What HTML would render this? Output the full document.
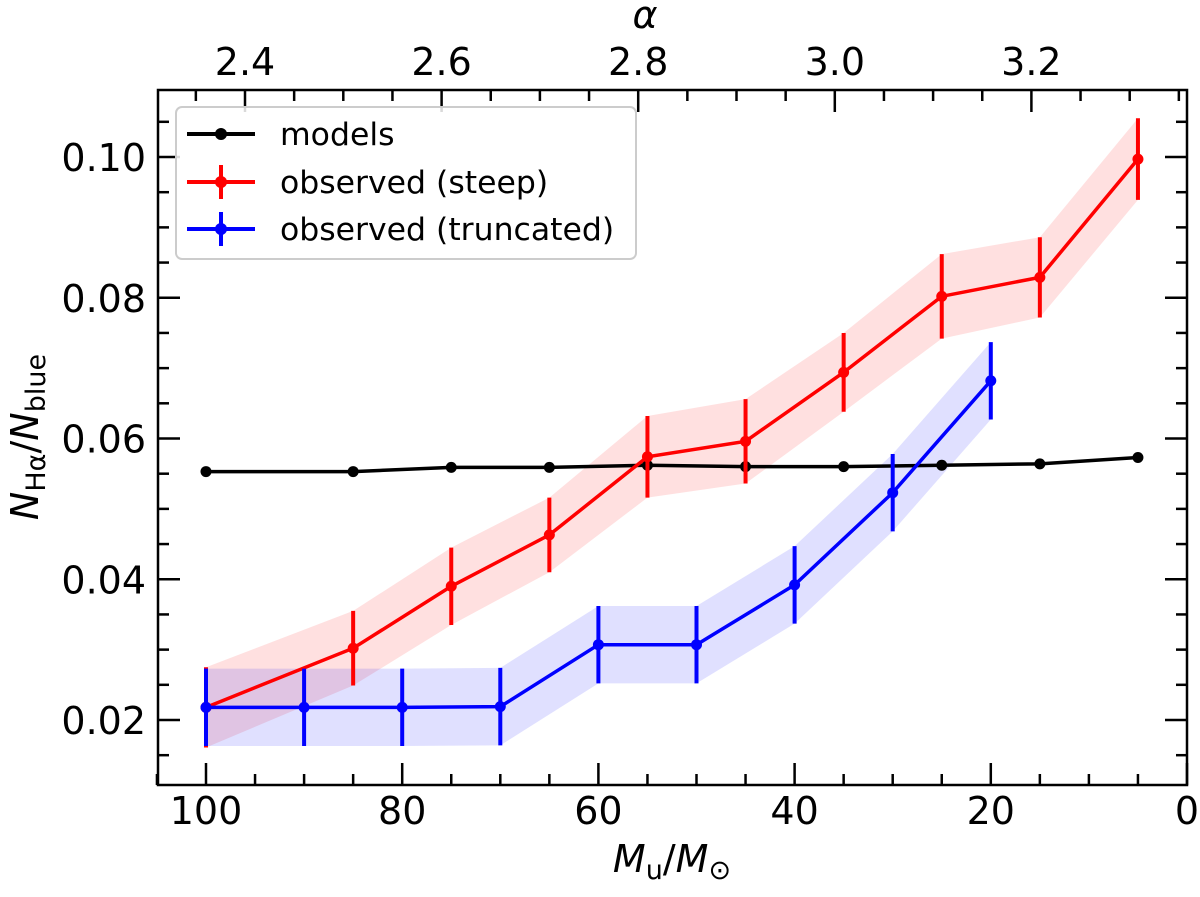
<!DOCTYPE html>
<html><head><meta charset="utf-8"><style>
body{margin:0;background:#fff}
text{font-family:"DejaVu Sans","Liberation Sans",sans-serif}
</style></head><body>
<svg id="chart" width="1200" height="892" xmlns="http://www.w3.org/2000/svg"></svg>
<script>
const massModels=[100,85,75,65,55,45,35,25,15,5];
const modelVals=[0.0553,0.0553,0.0559,0.0559,0.0562,0.0560,0.0560,0.0562,0.0564,0.0573];
const steepVals=[0.0218,0.0302,0.0390,0.0463,0.0574,0.0596,0.0694,0.0802,0.0829,0.0997];
const steepErr=[0.0057,0.0053,0.0055,0.0053,0.0058,0.0060,0.0056,0.0060,0.0057,0.0058];
const massTrunc=[100,90,80,70,60,50,40,30,20];
const truncVals=[0.0218,0.0218,0.0218,0.0219,0.0307,0.0307,0.0392,0.0523,0.0682];
const truncErr=[0.0055,0.0055,0.0055,0.0055,0.0055,0.0055,0.0055,0.0055,0.0055];
const xTicks=[100,80,60,40,20,0];
const yTicks=[0.02,0.04,0.06,0.08,0.10];
const alphaTicks=[2.4,2.6,2.8,3.0,3.2];

const svg=document.getElementById('chart');
const NS='http://www.w3.org/2000/svg';
const L=158,R=1187,T=90,B=785;
const X=m=>206+(100-m)*9.81;
const Y=v=>720-(v-0.02)*7037.5;
const AX=a=>245+(a-2.4)*983;
function mk(tag,attrs,parent){const e=document.createElementNS(NS,tag);for(const k in attrs)e.setAttribute(k,attrs[k]);(parent||svg).appendChild(e);return e;}

function band(ms,vals,errs,color,name){
  let top=ms.map((m,i)=>X(m)+','+Y(vals[i]+errs[i]));
  let bot=ms.map((m,i)=>X(m)+','+Y(vals[i]-errs[i])).reverse();
  const p=mk('polygon',{points:top.concat(bot).join(' '),fill:color,'fill-opacity':0.12});
  
  
}
band(massModels,steepVals,steepErr,'#ff0000','steep-band');
band(massTrunc,truncVals,truncErr,'#0000ff','truncated-band');

function series(ms,vals,errs,color,name){
  const g=mk('g',{});
  
  
  mk('polyline',{points:ms.map((m,i)=>X(m)+','+Y(vals[i])).join(' '),fill:'none',stroke:color,'stroke-width':3.5},g);
  ms.forEach((m,i)=>{
    if(errs){const e=mk('line',{x1:X(m),x2:X(m),y1:Y(vals[i]-errs[i]),y2:Y(vals[i]+errs[i]),stroke:color,'stroke-width':4},g);
      
      }
    const c=mk('circle',{cx:X(m),cy:Y(vals[i]),r:5.5,fill:color},g);
    
    
  });
}
series(massModels,modelVals,null,'#000','models-series');
series(massModels,steepVals,steepErr,'#ff0000','steep-series');
series(massTrunc,truncVals,truncErr,'#0000ff','truncated-series');

mk('rect',{x:L,y:T,width:R-L,height:B-T,fill:'none',stroke:'#000','stroke-width':2.5});
for(let m=0;m<=105;m+=5){const x=X(m);const maj=m%20===0;const len=maj?22:11;
  mk('line',{x1:x,x2:x,y1:B,y2:B-len,stroke:'#000','stroke-width':2.5});}
xTicks.forEach(m=>{const t=mk('text',{x:X(m),y:B+39,'font-size':38,'text-anchor':'middle'});t.textContent=m;
  });
for(let k=0;k<=19;k++){const v=0.015+k*0.005;if(v>0.1096)break;const y=Y(v);const maj=k%4===1;const len=maj?22:11;
  mk('line',{x1:L,x2:L+len,y1:y,y2:y,stroke:'#000','stroke-width':2.5});
  mk('line',{x1:R,x2:R-len,y1:y,y2:y,stroke:'#000','stroke-width':2.5});}
yTicks.forEach(v=>{const t=mk('text',{x:L-12,y:Y(v)+14,'font-size':38,'text-anchor':'end'});t.textContent=v.toFixed(2);
  });
for(let k=0;k<=20;k++){const a=2.35+k*0.05;const x=AX(a);if(x<L||x>R)continue;const maj=(k%4)===1;
  mk('line',{x1:x,x2:x,y1:T,y2:T+(maj?22:11),stroke:'#000','stroke-width':2.5});}
alphaTicks.forEach(a=>{const t=mk('text',{x:AX(a),y:T-15,'font-size':38,'text-anchor':'middle'});t.textContent=a.toFixed(1);
  });
</script>
<svg width="1200" height="892" style="position:absolute;left:0;top:0" xmlns="http://www.w3.org/2000/svg">
<text x="645" y="28" font-size="38" font-style="italic" text-anchor="middle" font-family="DejaVu Sans,sans-serif">α</text>
<text x="672" y="872" font-size="38" text-anchor="middle" font-family="DejaVu Sans,sans-serif"><tspan font-style="italic">M</tspan><tspan font-size="27" dy="7">u</tspan><tspan dy="-7">/</tspan><tspan font-style="italic">M</tspan><tspan font-size="27" dy="7">⊙</tspan></text>
<text transform="translate(38,437) rotate(-90)" font-size="38" text-anchor="middle" font-family="DejaVu Sans,sans-serif"><tspan font-style="italic">N</tspan><tspan font-size="27" dy="7">Hα</tspan><tspan dy="-7">/</tspan><tspan font-style="italic">N</tspan><tspan font-size="27" dy="7">blue</tspan></text>
<g>
<rect x="176" y="107" width="460" height="152" rx="6" fill="#fff" fill-opacity="0.85" stroke="#ccc" stroke-width="2"/>
<g><line x1="187" x2="255" y1="134" y2="134" stroke="#000" stroke-width="4"/><circle cx="221" cy="134" r="6"/><text x="280" y="145" font-size="31.5" font-family="DejaVu Sans,sans-serif">models</text></g>
<g><line x1="187" x2="255" y1="182" y2="182" stroke="red" stroke-width="4"/><line x1="221" x2="221" y1="165" y2="199" stroke="red" stroke-width="4"/><circle cx="221" cy="182" r="6" fill="red"/><text x="280" y="193" font-size="31.5" font-family="DejaVu Sans,sans-serif">observed (steep)</text></g>
<g><line x1="187" x2="255" y1="229" y2="229" stroke="blue" stroke-width="4"/><line x1="221" x2="221" y1="212" y2="246" stroke="blue" stroke-width="4"/><circle cx="221" cy="229" r="6" fill="blue"/><text x="280" y="240" font-size="31.5" font-family="DejaVu Sans,sans-serif">observed (truncated)</text></g>
</g>
</svg>
</body></html>
